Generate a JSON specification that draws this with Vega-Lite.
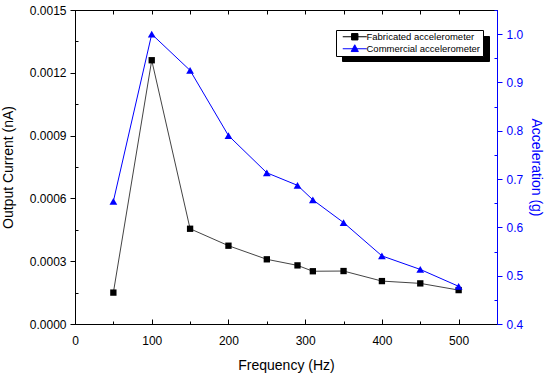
{
  "$schema": "https://vega.github.io/schema/vega-lite/v6.json",
  "width": 422,
  "height": 314,
  "autosize": {"type": "none"},
  "padding": {"left": 75, "top": 10, "right": 53, "bottom": 52},
  "background": "white",
  "config": {
    "view": {"stroke": "black", "strokeWidth": 1},
    "font": "Liberation Sans",
    "axis": {"grid": false, "labelFont": "Liberation Sans", "titleFont": "Liberation Sans", "labelFontSize": 12, "titleFontSize": 14, "titleFontWeight": "normal", "domainColor": "black", "tickColor": "black", "labelColor": "black", "titleColor": "black", "labelFlush": false, "labelOverlap": false},
    "legend": {"title": null, "labelFont": "Liberation Sans", "labelFontSize": 9.5, "labelColor": "black", "padding": 2, "rowPadding": 0, "symbolSize": 64, "symbolStrokeWidth": 1, "labelOffset": 19}
  },
  "datasets": {
    "pts": [
      {"series": "Fabricated accelerometer", "frequency": 50, "value": 0.00015},
      {"series": "Fabricated accelerometer", "frequency": 100, "value": 0.00126},
      {"series": "Fabricated accelerometer", "frequency": 150, "value": 0.000455},
      {"series": "Fabricated accelerometer", "frequency": 200, "value": 0.000374},
      {"series": "Fabricated accelerometer", "frequency": 250, "value": 0.000309},
      {"series": "Fabricated accelerometer", "frequency": 290, "value": 0.00028},
      {"series": "Fabricated accelerometer", "frequency": 310, "value": 0.000252},
      {"series": "Fabricated accelerometer", "frequency": 350, "value": 0.000253},
      {"series": "Fabricated accelerometer", "frequency": 400, "value": 0.000205},
      {"series": "Fabricated accelerometer", "frequency": 450, "value": 0.000194},
      {"series": "Fabricated accelerometer", "frequency": 500, "value": 0.000162},
      {"series": "Commercial accelerometer", "frequency": 50, "value": 0.654},
      {"series": "Commercial accelerometer", "frequency": 100, "value": 1.0},
      {"series": "Commercial accelerometer", "frequency": 150, "value": 0.925},
      {"series": "Commercial accelerometer", "frequency": 200, "value": 0.79},
      {"series": "Commercial accelerometer", "frequency": 250, "value": 0.713},
      {"series": "Commercial accelerometer", "frequency": 290, "value": 0.687},
      {"series": "Commercial accelerometer", "frequency": 310, "value": 0.657},
      {"series": "Commercial accelerometer", "frequency": 350, "value": 0.61},
      {"series": "Commercial accelerometer", "frequency": 400, "value": 0.541},
      {"series": "Commercial accelerometer", "frequency": 450, "value": 0.513},
      {"series": "Commercial accelerometer", "frequency": 500, "value": 0.478}
    ]
  },
  "data": {"name": "pts"},
  "layer": [
    {
      "transform": [{"filter": "datum.series === 'Fabricated accelerometer'"}],
      "mark": {"type": "line", "color": "#444444", "strokeWidth": 1, "point": {"shape": "square", "filled": true, "color": "black", "size": 40}},
      "encoding": {
        "x": {"field": "frequency", "type": "quantitative", "scale": {"domain": [0, 550], "nice": false, "zero": false},
          "axis": {"orient": "bottom", "values": [0, 100, 200, 300, 400, 500], "tickSize": -5, "labelPadding": 16, "title": "Frequency (Hz)", "titlePadding": 12}},
        "y": {"field": "value", "type": "quantitative", "scale": {"domain": [0, 0.0015], "nice": false, "zero": false},
          "axis": {"orient": "left", "values": [0, 0.0003, 0.0006, 0.0009, 0.0012, 0.0015], "format": ".4f", "tickSize": 5, "labelPadding": 4, "title": "Output Current (nA)", "titlePadding": 14}}
      }
    },
    {
      "transform": [{"filter": "datum.series === 'Fabricated accelerometer'"}],
      "mark": {"type": "point", "opacity": 0},
      "encoding": {
        "x": {"field": "frequency", "type": "quantitative", "scale": {"domain": [0, 550], "nice": false, "zero": false},
          "axis": {"orient": "top", "values": [0, 50, 100, 150, 200, 250, 300, 350, 400, 450, 500, 550], "tickSize": -4, "labels": false, "title": null}},
        "y": {"field": "value", "type": "quantitative", "scale": {"domain": [0, 0.0015], "nice": false, "zero": false},
          "axis": {"orient": "left", "values": [0.00015, 0.00045, 0.00075, 0.00105, 0.00135], "tickSize": -3, "labels": false, "domain": false, "title": null}}
      }
    },
    {
      "transform": [{"filter": "datum.series === 'Commercial accelerometer'"}],
      "mark": {"type": "line", "color": "#0000ff", "strokeWidth": 1, "point": {"shape": "triangle-up", "filled": true, "color": "#0000ff", "size": 60}},
      "encoding": {
        "x": {"field": "frequency", "type": "quantitative", "scale": {"domain": [0, 550], "nice": false, "zero": false}, "axis": null},
        "y": {"field": "value", "type": "quantitative", "scale": {"domain": [0.4, 1.05], "nice": false, "zero": false},
          "axis": {"orient": "right", "values": [0.4, 0.5, 0.6, 0.7, 0.8, 0.9, 1.0], "format": ".1f", "tickSize": 5, "labelPadding": 4, "domainColor": "#0000ff", "tickColor": "#0000ff", "labelColor": "#0000ff", "titleColor": "#0000ff", "title": "Acceleration (g)", "titlePadding": 6}}
      }
    },
    {
      "transform": [{"filter": "datum.series === 'Commercial accelerometer'"}],
      "mark": {"type": "point", "opacity": 0},
      "encoding": {
        "x": {"field": "frequency", "type": "quantitative", "scale": {"domain": [0, 550], "nice": false, "zero": false},
          "axis": {"orient": "bottom", "values": [50, 150, 250, 350, 450, 550], "tickSize": -3, "labels": false, "domain": false, "title": null}},
        "y": {"field": "value", "type": "quantitative", "scale": {"domain": [0.4, 1.05], "nice": false, "zero": false},
          "axis": {"orient": "right", "values": [0.45, 0.55, 0.65, 0.75, 0.85, 0.95, 1.05], "tickSize": -3, "labels": false, "domain": false, "tickColor": "#0000ff", "title": null}}
      }
    },
    {
      "data": {"values": [{"label": "Fabricated accelerometer"}, {"label": "Commercial accelerometer"}]},
      "mark": {"type": "point", "opacity": 0},
      "encoding": {
        "size": {"field": "label", "type": "nominal", "scale": {"range": [64, 64]},
          "legend": {"orient": "none", "legendX": 267, "legendY": 26, "fillColor": "black", "strokeColor": "black", "labelColor": "black", "symbolType": "M0,0H6M2.2,-0.8H3.8V0.8H2.2Z", "symbolOpacity": 0, "zindex": 1}}
      }
    },
    {
      "mark": {"type": "point", "filled": true, "opacity": 0},
      "encoding": {
        "fill": {"field": "series", "type": "nominal", "scale": {"domain": ["Fabricated accelerometer", "Commercial accelerometer"], "range": ["black", "#0000ff"]},
          "legend": {"orient": "none", "legendX": 261, "legendY": 20, "fillColor": "white", "strokeColor": "black", "zindex": 2,
            "encode": {"symbols": {"update": {"stroke": {"scale": "fill", "field": "value"}, "fill": {"scale": "fill", "field": "value"}, "strokeWidth": {"value": 1}}}}}},
        "shape": {"field": "series", "type": "nominal", "scale": {"domain": ["Fabricated accelerometer", "Commercial accelerometer"], "range": ["M0,0H6M2.2,-0.8H3.8V0.8H2.2Z", "M0,0H6M3,-1L3.9,0.7H2.1Z"]},
          "legend": {"orient": "none", "legendX": 261, "legendY": 20, "fillColor": "white", "strokeColor": "black", "zindex": 2}}
      }
    }
  ],
  "resolve": {"scale": {"y": "independent"}, "axis": {"x": "independent", "y": "independent"}}
}
